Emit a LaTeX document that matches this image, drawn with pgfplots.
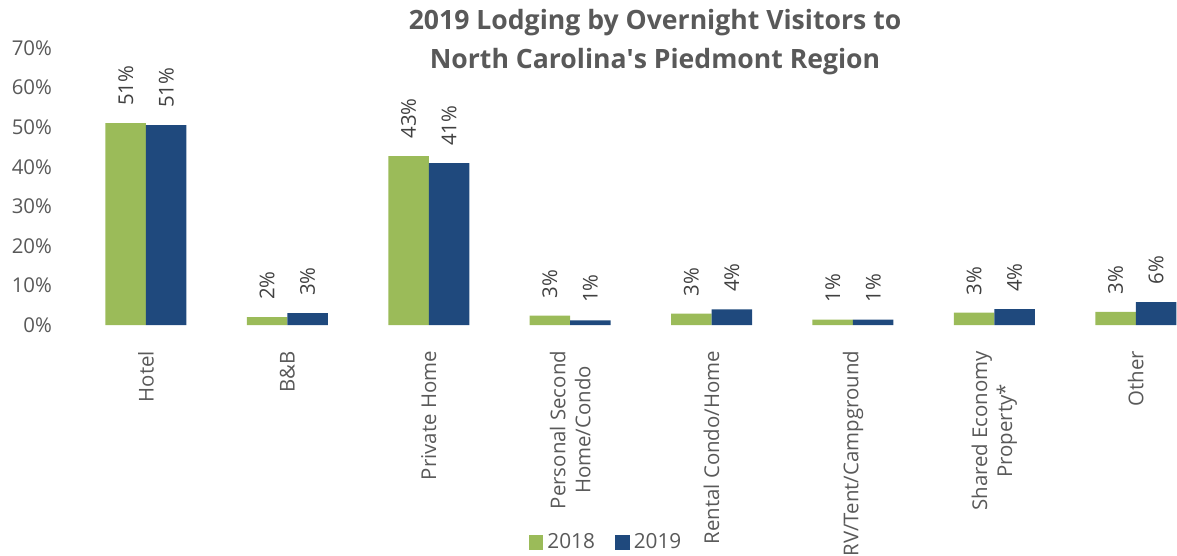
\documentclass[border=0pt]{standalone}
\usepackage{fontspec}
\setmainfont{Open Sans}
\usepackage{pgfplots}
\pgfplotsset{compat=1.18}
\definecolor{cgreen}{HTML}{9BBB59}
\definecolor{cblue}{HTML}{1F497D}
\definecolor{tgray}{HTML}{595959}
\definecolor{lgray}{HTML}{404040}
\begin{document}
\begin{tikzpicture}
\begin{axis}[
  name=ax,
  at={(0,0)}, anchor=south west,
  scale only axis,
  width=565.6pt, height=138.5pt,
  ybar=0pt, bar width=20.25pt,
  xmin=-0.5, xmax=7.5,
  ymin=0, ymax=70,
  axis line style={draw=none},
  tick style={draw=none},
  xtick={0,...,7},
  xticklabels={Hotel, B\&B, Private Home, {Personal Second\\Home/Condo}, Rental Condo/Home, RV/Tent/Campground, {Shared Economy\\Property*}, Other},
  xticklabel style={rotate=90, anchor=east, align=center, font=\fontsize{10.2}{12.5}\selectfont, text=tgray, inner sep=0pt},
  xticklabel shift=8.5pt,
  ytick={0,10,...,70},
  yticklabels={0\%,10\%,20\%,30\%,40\%,50\%,60\%,70\%},
  yticklabel style={font=\fontsize{10.2}{12}\selectfont, text=tgray, inner sep=0pt},
  yticklabel shift=11.5pt,
  point meta=explicit symbolic,
  nodes near coords,
  every node near coord/.append style={rotate=90, anchor=west, inner xsep=8.5pt, inner ysep=0pt, font=\fontsize{10.2}{12}\selectfont, text=lgray},
  legend style={at={(axis description cs:0.470,-0.785)}, anchor=center, draw=none, fill=none, legend columns=2, font=\fontsize{10.4}{12}\selectfont, text=tgray,
    /tikz/every even column/.append style={column sep=8pt}},
  legend image code/.code={\fill[#1] (0pt,-3.7pt) rectangle (7.4pt,3.7pt);},
  title={2019 Lodging by Overnight Visitors to\\North Carolina\textquotesingle s Piedmont Region},
  title style={at={(axis description cs:0.5125,1)}, anchor=north, yshift=17pt, align=center, font=\fontsize{13.3}{19.5}\selectfont\bfseries, text=tgray},
]
\addplot[fill=cgreen, draw=none] coordinates {
 (0,51.0) [51\%]
 (1,2.0) [2\%]
 (2,42.7) [43\%]
 (3,2.4) [3\%]
 (4,2.85) [3\%]
 (5,1.35) [1\%]
 (6,3.1) [3\%]
 (7,3.3) [3\%]
};
\addplot[fill=cblue, draw=none] coordinates {
 (0,50.5) [51\%]
 (1,3.0) [3\%]
 (2,40.9) [41\%]
 (3,1.2) [1\%]
 (4,3.95) [4\%]
 (5,1.35) [1\%]
 (6,4.0) [4\%]
 (7,5.8) [6\%]
};
\legend{2018,2019}
\end{axis}
\pgfresetboundingbox
\path[use as bounding box] ([xshift=-37.65pt,yshift=-115.5pt]ax.south west) rectangle ([xshift=550.85pt,yshift=162.5pt]ax.south west);
\end{tikzpicture}
\end{document}
